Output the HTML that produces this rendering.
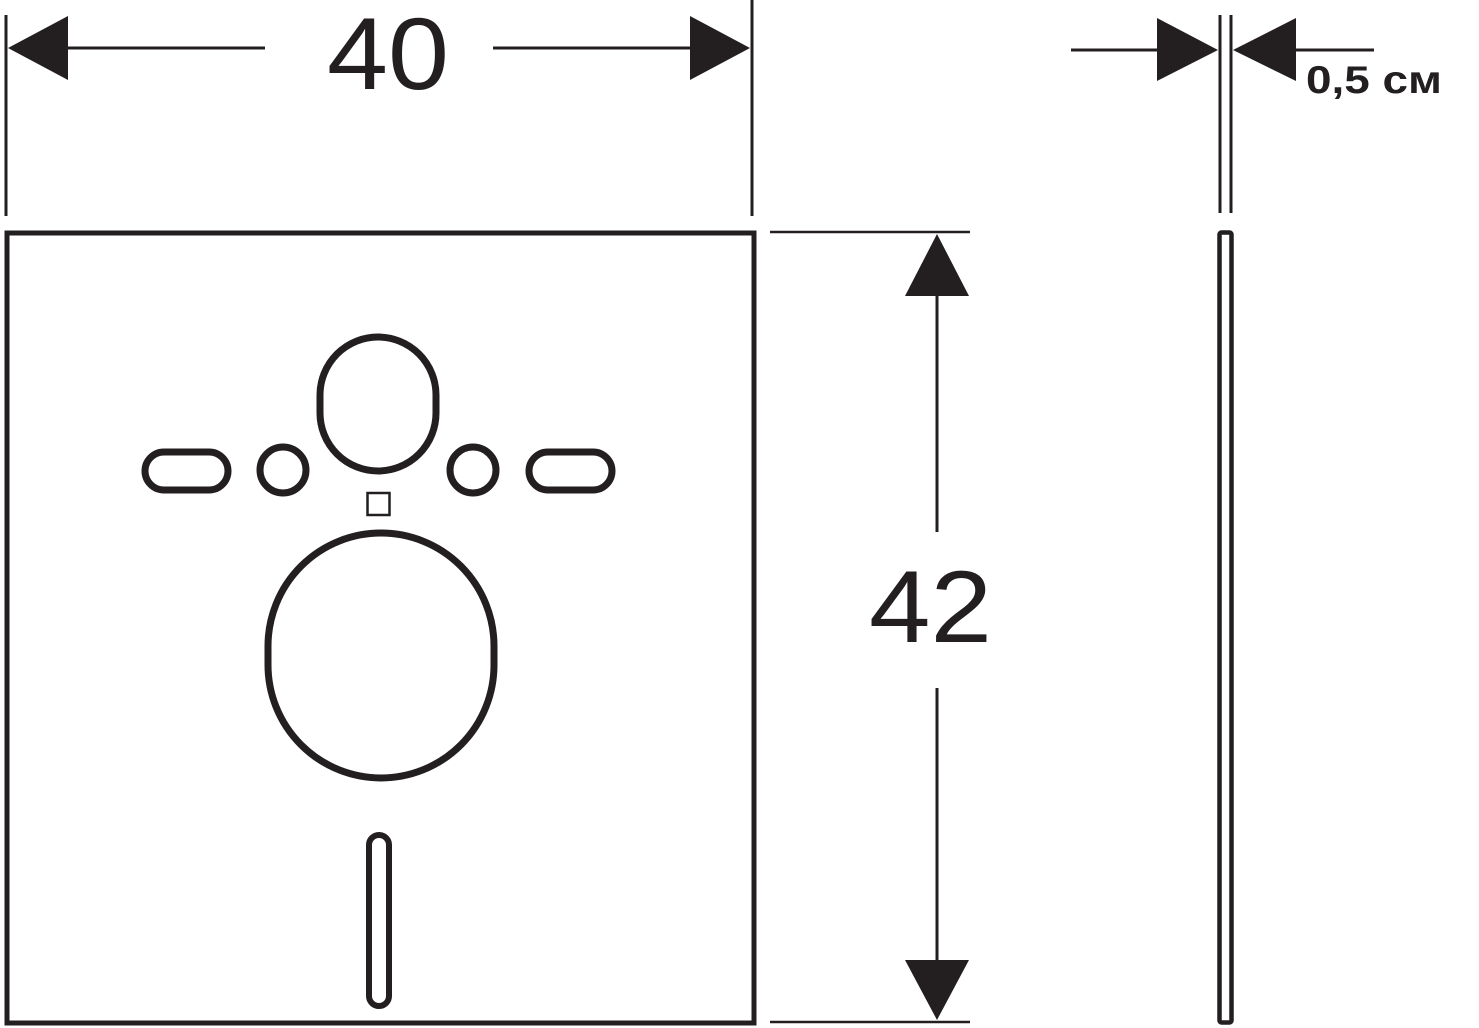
<!DOCTYPE html>
<html><head><meta charset="utf-8"><style>
html,body{margin:0;padding:0;background:#fff;}
svg{display:block;}
</style></head><body>
<svg width="1479" height="1028" viewBox="0 0 1479 1028" xmlns="http://www.w3.org/2000/svg">
<g fill="none" stroke="#231f20">
  <rect x="7" y="233" width="747" height="790" stroke-width="5"/>
  <line x1="6" y1="15" x2="6" y2="216" stroke-width="3"/>
  <line x1="752" y1="0" x2="752" y2="216" stroke-width="3"/>
  <line x1="60" y1="48" x2="265" y2="48" stroke-width="3"/>
  <line x1="493" y1="48" x2="700" y2="48" stroke-width="3"/>
  <line x1="770" y1="232" x2="970" y2="232" stroke-width="2.5"/>
  <line x1="770" y1="1022" x2="970" y2="1022" stroke-width="2.5"/>
  <line x1="937" y1="290" x2="937" y2="532" stroke-width="3"/>
  <line x1="937" y1="688" x2="937" y2="966" stroke-width="3"/>
  <line x1="1220" y1="15" x2="1220" y2="213" stroke-width="3"/>
  <line x1="1231" y1="15" x2="1231" y2="213" stroke-width="3"/>
  <line x1="1071" y1="50" x2="1160" y2="50" stroke-width="3"/>
  <line x1="1294" y1="50" x2="1374" y2="50" stroke-width="3"/>
  <rect x="1219.5" y="232.5" width="12" height="790" rx="2" stroke-width="4.5"/>
  <path d="M320 395 A58 58 0 0 1 436 395 L436 413 A58 58 0 0 1 320 413 Z" stroke-width="7"/>
  <rect x="145" y="452" width="83" height="38" rx="19" stroke-width="7"/>
  <rect x="529" y="452" width="83" height="38" rx="19" stroke-width="7"/>
  <circle cx="283" cy="470" r="23" stroke-width="7"/>
  <circle cx="473" cy="470" r="23" stroke-width="7"/>
  <rect x="367.5" y="493" width="22" height="22" stroke-width="2.5"/>
  <path d="M268 646 A113 113 0 0 1 494 646 L494 665 A113 113 0 0 1 268 665 Z" stroke-width="7"/>
  <rect x="369" y="835" width="20" height="171" rx="10" stroke-width="6"/>
</g>
<g fill="#231f20">
  <polygon points="8,48 68,16 68,80"/>
  <polygon points="750,48 690,16 690,80"/>
  <polygon points="937,234 905,296 969,296"/>
  <polygon points="937,1020 905,960 969,960"/>
  <polygon points="1218,50 1157,18 1157,81"/>
  <polygon points="1233,50 1296,18 1296,81"/>
</g>
<g fill="#231f20" font-family="'Liberation Sans', sans-serif">
  <text x="327" y="89" font-size="102" textLength="122" lengthAdjust="spacingAndGlyphs">40</text>
  <text x="869" y="642" font-size="102" textLength="123" lengthAdjust="spacingAndGlyphs">42</text>
  <text x="1306" y="93" font-size="39" font-weight="bold" textLength="136" lengthAdjust="spacingAndGlyphs">0,5 см</text>
</g>
</svg>
</body></html>
